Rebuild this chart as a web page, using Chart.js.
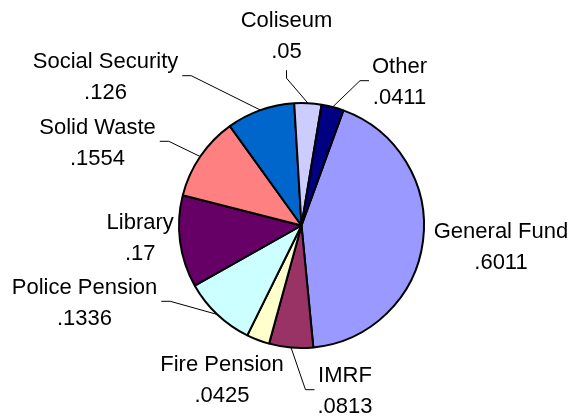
<!DOCTYPE html>
<html>
<head>
<meta charset="utf-8">
<script src="https://cdn.jsdelivr.net/npm/chart.js@4/dist/chart.umd.min.js"></script>
<style>
  html, body { margin: 0; padding: 0; background: #fff; }
  #pieChart { display: block; }
</style>
</head>
<body>
<canvas id="pieChart" width="574" height="416"></canvas>
<script>
const funds = ['General Fund', 'IMRF', 'Fire Pension', 'Police Pension', 'Library',
  'Solid Waste', 'Social Security', 'Coliseum', 'Other'];
const rates = [0.6011, 0.0813, 0.0425, 0.1336, 0.17, 0.1554, 0.126, 0.05, 0.0411];
const sliceColors = ['#9999FF', '#993366', '#FFFFCC', '#CCFFFF', '#660066',
  '#FF8080', '#0066CC', '#CCCCFF', '#000080'];

// label placement relative to the pie centre: [dx, dy of first baseline, leader side]
const labelLayout = [
  [199.5, 12.7, null],
  [43.5, 156.7, 'left'],
  [-79.5, 145, null],
  [-217, 68.3, 'right'],
  [-161.3, 3.3, null],
  [-204, -91.7, 'right'],
  [-196, -157.3, 'right'],
  [-15, -198.3, 'bottom'],
  [98, -152.3, 'left']
];

function fmtRate(v) {
  return String(v).replace(/^0/, '');
}

const pieLabels = {
  id: 'pieLabels',
  afterDraw(chart) {
    const ctx = chart.ctx;
    const arcs = chart.getDatasetMeta(0).data;
    const lineGap = 31;
    ctx.save();
    ctx.font = '22px "Liberation Sans", Arial, sans-serif';
    ctx.fillStyle = '#000';
    ctx.strokeStyle = '#000';
    ctx.lineWidth = 1;
    ctx.textAlign = 'center';
    ctx.textBaseline = 'alphabetic';
    arcs.forEach((arc, i) => {
      const p = arc.getProps(['x', 'y', 'startAngle', 'endAngle', 'outerRadius'], true);
      const [dx, dy, side] = labelLayout[i];
      const cx = p.x + dx;
      const by = p.y + dy;
      const name = funds[i];
      const val = fmtRate(chart.data.datasets[0].data[i]);
      ctx.fillText(name, cx, by);
      ctx.fillText(val, cx, by + lineGap);

      if (!side) return;
      const w = Math.max(ctx.measureText(name).width, ctx.measureText(val).width);
      const mid = (p.startAngle + p.endAngle) / 2;
      const ex = p.x + p.outerRadius * Math.cos(mid);
      const ey = p.y + p.outerRadius * Math.sin(mid);
      let sx, sy, kx, ky;
      if (side === 'right') {
        sx = cx + w / 2 + 4; sy = by + 7.5; kx = sx + 9; ky = sy;
      } else if (side === 'left') {
        sx = cx - w / 2 - 3; sy = by + 7.5; kx = sx - 9; ky = sy;
      } else {
        sx = cx; sy = by + lineGap + 12; kx = sx; ky = sy + 8;
      }
      ctx.beginPath();
      ctx.moveTo(sx, sy);
      ctx.lineTo(kx, ky);
      ctx.lineTo(ex, ey);
      ctx.stroke();
    });
    ctx.restore();
  }
};

document.addEventListener('DOMContentLoaded', function () {
  const pieCtx = document.getElementById('pieChart').getContext('2d');
  new Chart(pieCtx, {
    type: 'pie',
    data: {
      labels: funds,
      datasets: [{
        data: rates,
        backgroundColor: sliceColors,
        borderColor: '#000',
        borderWidth: 2,
        hoverBorderWidth: 2,
        hoverOffset: 0
      }]
    },
    options: {
      responsive: false,
      animation: false,
      rotation: 20,
      layout: {
        padding: { left: 178, right: 149, top: 102, bottom: 67 }
      },
      plugins: {
        legend: { display: false },
        tooltip: {
          callbacks: {
            label: function (context) {
              return `${context.label}: ${fmtRate(context.raw)}`;
            }
          }
        }
      }
    },
    plugins: [pieLabels]
  });
});
</script>
</body>
</html>
